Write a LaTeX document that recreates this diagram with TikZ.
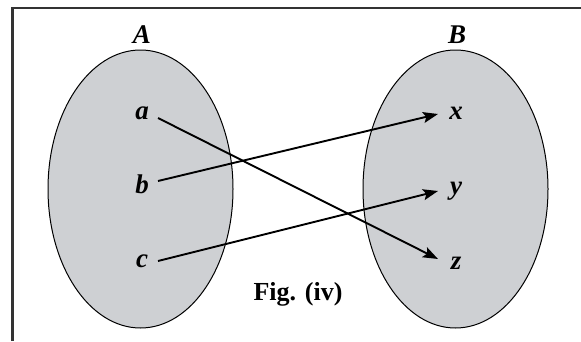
\documentclass[tikz,border=0pt]{standalone}
\usepackage{fontspec}
\setmainfont{Liberation Serif}
\usetikzlibrary{arrows.meta}
\definecolor{setgray}{RGB}{206,208,211}
\tikzset{
  setell/.style={draw=black, line width=1pt, fill=setgray},
  lbl/.style={font=\fontsize{27}{30}\selectfont\bfseries\itshape, inner sep=0pt},
  mapline/.style={line width=1.9pt, -{Stealth[length=15pt,width=11pt,inset=3pt]}},
  frameline/.style={line width=2.5pt, color=black!80}
}
\begin{document}
\begin{tikzpicture}[x=1pt,y=-1pt]
\useasboundingbox (0,0) rectangle (581,341);
\draw[frameline] (12.5,341) -- (12.5,8) -- (581,8);
\draw[setell] (140.5,189) ellipse [x radius=92.5, y radius=139];
\draw[setell] (455.5,189) ellipse [x radius=92.5, y radius=139];
\node[lbl] (A) at (142,35) {A};
\node[lbl] (B) at (457,35) {B};
\node[lbl] (a) at (142,113) {a};
\node[lbl] (b) at (142,184) {b};
\node[lbl] (c) at (142,261) {c};
\node[lbl] (x) at (456,113) {x};
\node[lbl] (y) at (456,191) {y};
\node[lbl] (z) at (456,263) {z};
\coordinate (a1) at (158,118);
\coordinate (b1) at (158,181);
\coordinate (c1) at (158,261);
\coordinate (x1) at (438,114);
\coordinate (y1) at (438,191);
\coordinate (z1) at (438,259);
\draw[mapline] (a1) -- (z1);
\draw[mapline] (b1) -- (x1);
\draw[mapline] (c1) -- (y1);
\node[font=\fontsize{26}{29}\selectfont\bfseries, inner sep=0pt] (fig) at (298,294) {Fig. (iv)};
\end{tikzpicture}
\end{document}
